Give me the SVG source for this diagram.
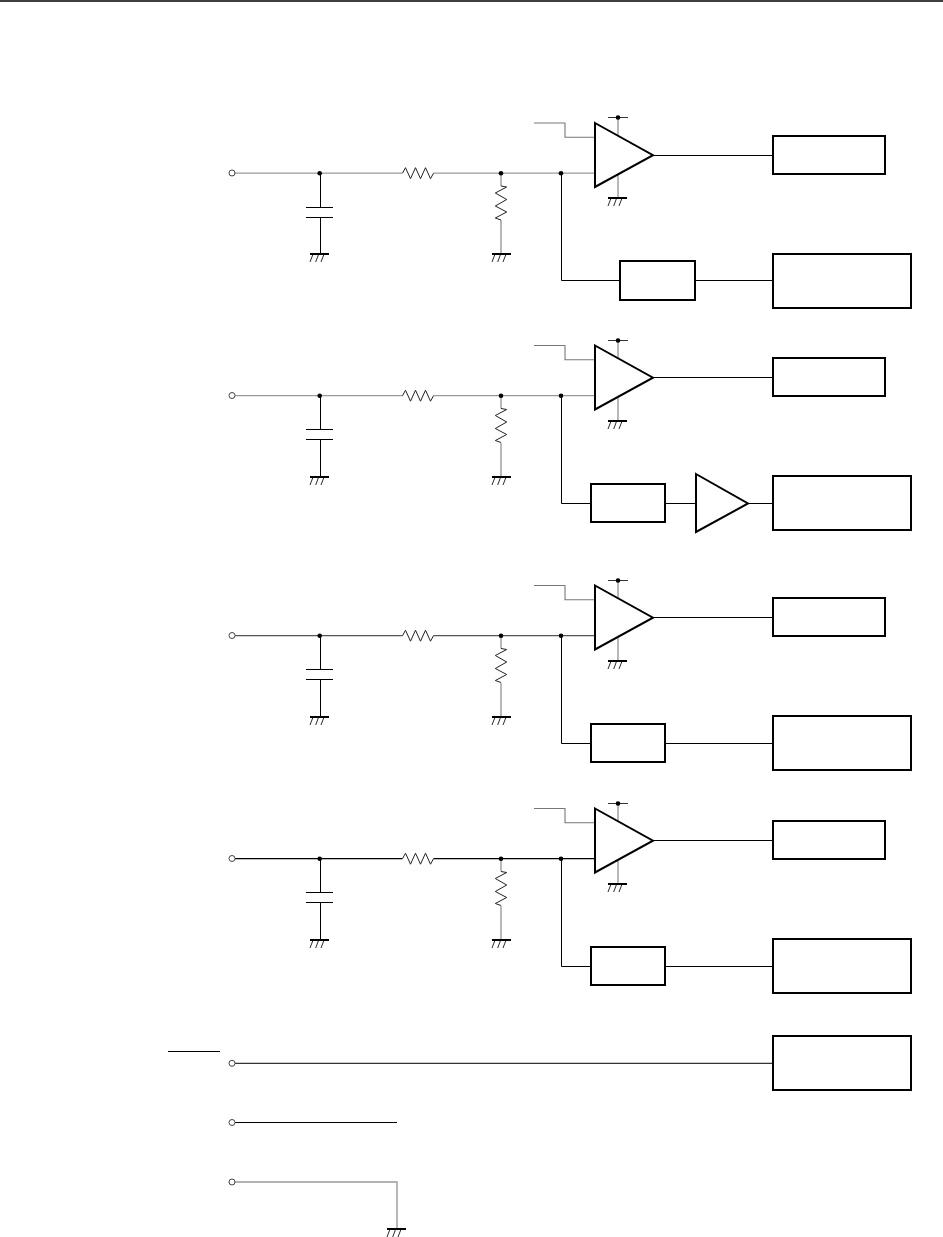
<svg xmlns="http://www.w3.org/2000/svg" width="943" height="1237" viewBox="0 0 943 1237">
<style>
.box{fill:#fff;stroke:#000;stroke-width:2}
.amp{fill:#fff;stroke:#000;stroke-width:2;stroke-linejoin:miter}
.k{fill:none;stroke:#000;stroke-width:1}
.g{fill:none;stroke:#9a9a9a;stroke-width:1.400}
.sig{fill:none;stroke:var(--sig,#9a9a9a);stroke-width:1.300}
.d{fill:none;stroke:#777;stroke-width:1.100}
.z{fill:none;stroke:#222;stroke-width:1}
.t{fill:#fff;stroke:#444;stroke-width:1}
.bar{stroke:#000;stroke-width:2;fill:none}
.h{stroke:#111;stroke-width:.9;fill:none}
.dot{fill:#000}
</style>
<defs>
<g id="gnd"><path class="bar" d="M-9.500 0H9.500"/><path class="h" d="M-6.800 1L-9.500 8M-1.200 1L-3.800 8M4.200 1L1.500 8"/></g>
<g id="resH"><path class="z" d="M0 0L3 -5.500L8 5.500L13 -5.500L18 5.500L23 -5.500L28 5.500L31 0"/></g>
<g id="resV"><path class="z" d="M0 0L5.700 1L-5.700 7L5.700 13.500L-5.700 20L5.700 26L-5.700 32L0 34"/></g>
<g id="supply"><path d="M-10 0.500H10" stroke="#333" fill="none"/><circle class="dot" cy="0.500" r="2.300"/></g>
<g id="rails">
<path class="g" d="M501 220V254"/>
<path class="g" d="M618 117V197"/>
<use href="#gnd" x="319.500" y="254"/>
<use href="#gnd" x="501.500" y="254"/>
<use href="#gnd" x="617.500" y="198"/>
<use href="#supply" x="618" y="117"/>
</g>
<g id="cap">
<path class="k" d="M306 207.500H333M306 217.500H333"/>
<path class="k" d="M320.500 174V207.500M320.500 217.500V254"/>
</g>
<g id="stage">
<path class="sig" d="M235 173.200H402.500M433.500 173.200H595"/>
<path class="g" d="M501 173V186"/>
<path class="d" d="M534 123H565V137.300H595"/>
<use href="#resH" x="402.500" y="173.200"/>
<use href="#resV" x="501" y="186"/>
<path class="amp" d="M595 123L653 155.200L595 187Z"/>
<circle class="t" cx="232" cy="173" r="3"/>
<circle class="dot" cx="319.700" cy="173.200" r="2.300"/>
<circle class="dot" cx="501" cy="173.200" r="2.300"/>
<circle class="dot" cx="561" cy="173.200" r="2.300"/>
</g>
</defs>

<g id="connectors">
<path d="M0 1H943" stroke="#000" stroke-width="1.600" fill="none"/>
<path class="k" d="M653 155.500H773M653 377.500H773M653 617.500H773M653 840.500H773"/>
<path class="k" d="M561.500 174V280.500H620M695 280.500H773"/>
<path class="k" d="M561.500 396V503.500H591M665 503.500H696M748 503.500H773"/>
<path class="k" d="M561.500 636V743.500H591M665 743.500H773"/>
<path class="k" d="M561.500 859V966.500H591M665 966.500H773"/>
<path class="k" d="M168 1051.500H220"/>
<path class="k" stroke-width="1.200" d="M235 1063.300H773"/>
<path class="k" stroke-width="1.200" d="M235 1122.500H397"/>
<path class="g" d="M235 1182H397V1229"/>
</g>

<g id="stage-1"><use href="#rails"/><use href="#cap"/><use href="#stage"/></g>
<g id="stage-2"><use href="#rails" y="223"/><use href="#cap" y="222"/><use href="#stage" y="222.500"/></g>
<g id="stage-3" style="--sig:#555"><use href="#rails" y="463"/><use href="#cap" y="462"/><use href="#stage" y="462.500"/></g>
<g id="stage-4" style="--sig:#000"><use href="#rails" y="686"/><use href="#cap" y="685"/><use href="#stage" y="685.500"/></g>

<g id="block-1o"><rect class="box" x="773" y="136" width="112" height="38"/></g>
<g id="block-2o"><rect class="box" x="773" y="358" width="112" height="38"/></g>
<g id="block-3o"><rect class="box" x="773" y="598" width="112" height="38"/></g>
<g id="block-4o"><rect class="box" x="773" y="821" width="112" height="38"/></g>
<g id="block-1a"><rect class="box" x="620" y="261" width="75" height="39"/></g>
<g id="block-1b"><rect class="box" x="773" y="254" width="138" height="54"/></g>
<g id="block-2a"><rect class="box" x="591" y="484" width="74" height="38"/></g>
<g id="buffer-2"><path class="amp" d="M696 474L748 503.500L696 532Z"/></g>
<g id="block-2b"><rect class="box" x="773" y="476" width="138" height="54"/></g>
<g id="block-3a"><rect class="box" x="591" y="724" width="74" height="38"/></g>
<g id="block-3b"><rect class="box" x="773" y="716" width="138" height="54"/></g>
<g id="block-4a"><rect class="box" x="591" y="947" width="74" height="38"/></g>
<g id="block-4b"><rect class="box" x="773" y="939" width="138" height="54"/></g>
<g id="block-5"><rect class="box" x="773" y="1036" width="138" height="54"/></g>
<g id="terminal-a"><circle class="t" cx="232" cy="1063.300" r="3"/></g>
<g id="terminal-b"><circle class="t" cx="232" cy="1122.500" r="3"/></g>
<g id="terminal-c"><circle class="t" cx="232" cy="1182" r="3"/></g>
<g id="ground-c"><use href="#gnd" x="396.500" y="1229"/></g>
</svg>
